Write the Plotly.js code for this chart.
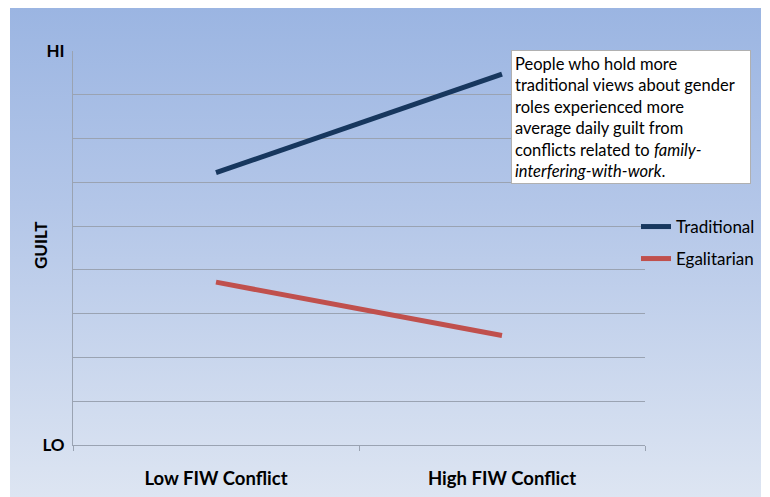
<!DOCTYPE html>
<html>
<head>
<meta charset="utf-8">
<script src="https://cdn.plot.ly/plotly-3.0.1.min.js"></script>
<style>
html,body{margin:0;padding:0;background:#ffffff;}
#wrap{position:relative;width:770px;height:497px;}
#bg{position:absolute;left:10px;top:8px;width:751px;height:489px;background:linear-gradient(to bottom,#9bb5e2 0%,#b3c6e8 40%,#dde5f2 100%);}
#chart{position:absolute;left:0;top:0;width:770px;height:497px;}
</style>
</head>
<body>
<div id="wrap"><div id="bg"></div><div id="chart"></div></div>
<script>
var categories = ['Low FIW Conflict', 'High FIW Conflict'];
var traditional = [6.22, 8.47];
var egalitarian = [3.72, 2.50];
var yTickVals = [0, 1, 2, 3, 4, 5, 6, 7, 8, 9];
var yTickText = ['LO', '', '', '', '', '', '', '', '', 'HI'];
var yTitle = 'GUILT';
var noteText = 'People who hold more<br>traditional views about gender<br>roles experienced more<br>average daily guilt from<br>conflicts related to <i>family-</i><br><i>interfering-with-work</i>.';

var font = 'Lato, "Open Sans", sans-serif';
var traces = [
  {x: categories, y: traditional, name: 'Traditional', type: 'scatter', mode: 'lines',
   line: {color: '#17375e', width: 5}, legend: 'legend'},
  {x: categories, y: egalitarian, name: 'Egalitarian', type: 'scatter', mode: 'lines',
   line: {color: '#c0504d', width: 5}, legend: 'legend2'}
];
var legendBase = {bgcolor: 'rgba(0,0,0,0)', font: {family: font, size: 17, color: '#000'},
  itemwidth: 30, xref: 'paper', yref: 'paper', xanchor: 'left', yanchor: 'middle'};
var layout = {
  width: 770, height: 497,
  margin: {l: 73, r: 125, t: 51, b: 52, autoexpand: false},
  paper_bgcolor: 'rgba(0,0,0,0)',
  plot_bgcolor: 'rgba(0,0,0,0)',
  showlegend: true,
  legend: Object.assign({}, legendBase, {x: (636 - 73) / 572, y: (445 - 227) / 394}),
  legend2: Object.assign({}, legendBase, {x: (636 - 73) / 572, y: (445 - 259) / 394}),
  xaxis: {
    type: 'category', range: [-0.5, 1.5], tickson: 'boundaries',
    ticks: 'outside', ticklen: 5, tickcolor: '#9aa3b2',
    showgrid: false, showline: true, linecolor: '#9aa3b2', linewidth: 1,
    tickfont: {family: font, size: 18.5, color: '#000', weight: 'bold'},
    ticklabelstandoff: 17
  },
  yaxis: {
    range: [0, 9], tickvals: yTickVals, ticktext: yTickText,
    showgrid: true, gridcolor: '#9aa3b2', gridwidth: 1, zeroline: false,
    showline: true, linecolor: '#9aa3b2', linewidth: 1, ticks: '',
    tickfont: {family: font, size: 17, color: '#000', weight: 'bold'},
    ticklabelstandoff: 4
  },
  annotations: [{
    xref: 'paper', yref: 'paper', x: (511 - 73) / 572, y: (445 - 50) / 394,
    xanchor: 'left', yanchor: 'top', align: 'left', valign: 'top',
    text: noteText, showarrow: false,
    font: {family: font, size: 16.5, color: '#000'},
    bgcolor: '#ffffff', bordercolor: '#b0b0b0', borderwidth: 1, borderpad: 3,
    width: 232, height: 126
  }, {
    xref: 'paper', yref: 'paper', x: (40 - 73) / 572, y: (445 - 245) / 394,
    xanchor: 'center', yanchor: 'middle', textangle: -90, showarrow: false,
    text: '<b>' + yTitle + '</b>',
    font: {family: font, size: 17, color: '#000'}
  }]
};
Plotly.newPlot('chart', traces, layout, {staticPlot: true, displayModeBar: false});
</script>
</body>
</html>
